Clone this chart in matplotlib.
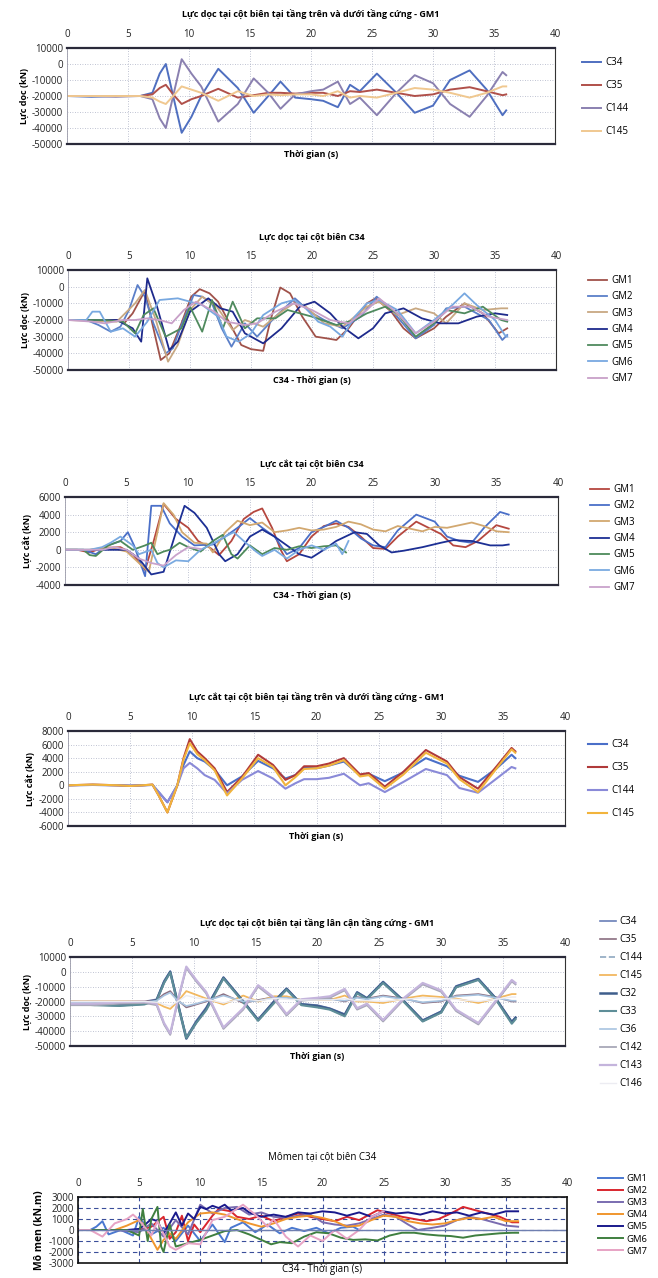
import matplotlib.pyplot as plt
from matplotlib.ticker import FuncFormatter

plt.rcParams['font.family'] = ['Open Sans', 'DejaVu Sans']
plt.rcParams['axes.unicode_minus'] = False
plt.rcParams['lines.solid_joinstyle'] = 'round'

# ---------------- panel 1 : axial force, columns above/below stiff storey, GM1
p1_t = [0, 2, 4, 6, 7, 7.6, 8.1, 8.7, 9.4, 10.2, 11, 12.4, 14, 15.3, 16.5, 17.5, 18.7, 20, 21,
        22.2, 23.2, 24, 25.4, 27, 28.5, 30, 31.4, 33, 34.4, 35.7, 36]
p1_c34 = [-20000, -20500, -20000, -20000, -18000, -6000, 0, -20000, -43000, -33000, -20000, -3000, -15000,
          -30500, -20000, -11000, -21000, -22000, -23000, -27000, -13000, -17000, -6000, -18000,
          -30500, -26000, -10000, -4000, -16000, -32000, -29000]
p1_c35 = [-20000, -20000, -20000, -20000, -19000, -15000, -13000, -19000, -25000, -22000, -20000, -15500, -21000,
          -19500, -18000, -18000, -18500, -18000, -18000, -20000, -17000, -17500, -16000, -18000,
          -20000, -19000, -16000, -14500, -17000, -19500, -19000]
p1_c144 = [-20000, -20000, -20500, -20000, -22000, -34000, -40000, -20000, 3000, -6000, -14000, -36000, -25000,
           -9000, -18000, -28000, -19000, -17000, -16000, -11000, -25000, -21000, -32000, -18000,
           -7000, -12000, -25000, -33000, -20000, -5000, -7000]
p1_c145 = [-20000, -20000, -20000, -20000, -21000, -23500, -25000, -20000, -14000, -16000, -18000, -23000, -17000,
           -20000, -19000, -19500, -19000, -19000, -20000, -17000, -21000, -20000, -21000, -18000,
           -15000, -16000, -18000, -21000, -18000, -14000, -14000]

# ---------------- panel 2 : axial force C34, GM1..GM7  (time, kN)
p2_gm1 = [(0, -20000), (4, -20000), (4.6, -22000), (5.3, -16000), (6.3, -2500), (7, -25000), (7.6, -44000),
          (8.3, -40000), (9.3, -22000), (10.1, -6000), (10.8, -1500), (11.6, -4000), (12.3, -9000),
          (13.1, -20000), (14.2, -35000), (15, -37500), (16, -38500), (16.6, -20000), (17.4, -500),
          (18.2, -4000), (19.2, -18000), (20.3, -30000), (21.2, -31000), (22, -32000), (23, -25000),
          (24.5, -10000), (25.2, -7000), (26.5, -15000), (27.5, -25000), (28.5, -31000), (30, -25000),
          (31, -18000), (32.5, -10000), (34, -16000), (35.3, -28000), (36, -25000)]
p2_gm2 = [(0, -20000), (1.5, -20000), (2.5, -23000), (3.5, -27000), (4.3, -24000), (5, -14000), (5.7, 1000),
          (6.3, -6000), (7, -22000), (8, -40000), (8.6, -37000), (9.2, -25000), (10.3, -5000), (11, -6000),
          (11.8, -10000), (12.6, -25000), (13.4, -36000), (14.5, -22000), (15.5, -30000), (17, -18000),
          (18.6, -7000), (19.8, -15000), (21, -20000), (22.5, -25000), (24, -18000), (25.3, -6000),
          (26.5, -14000), (28.5, -31000), (30, -23000), (31, -13000), (32.5, -12000), (34.5, -20000),
          (35.6, -32000), (36, -29000)]
p2_gm3 = [(0, -20000), (4, -21000), (5.5, -10000), (6.3, -2000), (7.2, -20000), (8.2, -45000), (9, -35000),
          (10, -14000), (11, -6000), (12.2, -12000), (13.5, -26000), (14.5, -20000), (16, -24000),
          (17.5, -15000), (18.5, -10000), (19.5, -12000), (21, -22000), (22.5, -24000), (24.5, -12000),
          (25.5, -9000), (27, -17000), (28.5, -13000), (30, -16000), (31, -22000), (32.5, -10000),
          (34, -14000), (35.5, -13000), (36, -13000)]
p2_gm4 = [(0, -20000), (4, -20000), (5.3, -25000), (6, -33000), (6.5, 5000), (7.3, -12000), (8.3, -38000),
          (9, -33000), (10, -15000), (11.5, -7000), (12.5, -13000), (13.5, -15000), (14.5, -28000),
          (16, -34000), (17.5, -25000), (19, -12000), (20.2, -9000), (21.5, -16000), (22.5, -24000),
          (23.8, -31000), (25, -25000), (26, -16000), (27.5, -13000), (29, -19000), (30.5, -22000),
          (32, -22000), (33.5, -18000), (35, -16000), (36, -17000)]
p2_gm5 = [(0, -20000), (3, -20000), (4.5, -21000), (5.5, -28000), (6.2, -17000), (7, -13000), (8, -30000),
          (9.3, -25000), (10, -12000), (11, -27000), (11.8, -8000), (12.7, -25000), (13.5, -9000),
          (14.5, -25000), (15.5, -19000), (17, -19000), (18, -14000), (20, -18000), (22, -23000),
          (23.5, -20000), (24.5, -16000), (26, -12000), (27, -16000), (28.5, -30000), (30, -22000),
          (31, -14000), (32.5, -16000), (34, -12000), (35.5, -20000), (36, -21000)]
p2_gm6 = [(0, -20000), (1.5, -20000), (2, -15000), (2.6, -15000), (3.5, -27000), (4.5, -25000), (5.5, -30000),
          (6.5, -21000), (7.5, -8000), (9, -7000), (10, -9000), (11, -11000), (12.3, -18000), (13, -30000),
          (14, -33000), (15, -28000), (16, -17000), (17.5, -10000), (18.5, -8000), (19.5, -13000),
          (20.5, -21000), (21.5, -24000), (22.5, -30000), (23.5, -18000), (24.5, -10000), (25.5, -8000),
          (27, -14000), (28.5, -28000), (30, -20000), (31.5, -11000), (32.5, -4000), (33.5, -11000),
          (35, -20000), (35.8, -29000), (36, -30000)]
p2_gm7 = [(0, -20000), (2, -21000), (3, -22000), (4.5, -20000), (5.5, -20000), (6.5, -19000), (7.5, -20000),
          (8.5, -22000), (9.5, -14000), (10.5, -9000), (12, -15000), (13, -21000), (14.5, -23000),
          (15.5, -22000), (17, -15000), (18.5, -10000), (20, -14000), (21.5, -20000), (23, -22000),
          (24.5, -14000), (25.5, -7000), (27, -16000), (28.5, -28000), (30, -21000), (31.5, -12000),
          (33, -12000), (34.5, -18000), (36, -20000)]

# ---------------- panel 3 : shear force C34, GM1..GM7
p3_gm1 = [(0, 0), (1, 0), (2, -300), (3, 200), (4.5, 300), (5.5, -500), (6.5, -2300), (7.2, 1000), (8, 5200),
          (9, 3500), (10, 2500), (10.8, 1000), (11.8, 200), (12.5, -600), (13.5, 1000), (14.5, 3500),
          (15.3, 4300), (16, 4700), (16.8, 2500), (17.5, 0), (18, -1300), (19, -500), (20, 1500), (21, 2700),
          (22, 3000), (23, 2600), (24, 1500), (25, 200), (26, 100), (27, 1500), (28.5, 3200), (29.5, 2500),
          (30.5, 1800), (31.5, 500), (32.5, 300), (33.5, 1000), (35, 2800), (36, 2400)]
p3_gm2 = [(0, 0), (1.5, 0), (2.5, -500), (3.5, 500), (4.5, 1000), (5.1, 2000), (5.6, 500), (6.5, -3000),
          (7, 5000), (7.8, 5000), (8.5, 3000), (9.5, 1500), (10.5, 500), (12, 600), (13, 1500), (14, 2500),
          (15, 3600), (16, 2500), (17, 1500), (18, -500), (19, 200), (20, 2000), (21, 2600), (22, 3300),
          (23, 2500), (24, 1300), (25, 500), (26, 300), (27, 2200), (28.5, 4000), (30, 3200), (31, 1500),
          (32, 1000), (33, 800), (34, 2500), (35.3, 4300), (36, 4000)]
p3_gm3 = [(0, 0), (2, 0), (3.5, 300), (5, -200), (6, -1500), (6.8, -2500), (7.5, 2000), (8, 5300), (8.8, 4000),
          (9.5, 2000), (10.5, 800), (11.5, 700), (12, -300), (13, 2000), (14, 3300), (15, 2800), (16, 3100),
          (17, 2000), (18, 2200), (19, 2500), (20, 2200), (21, 2300), (22, 2600), (23, 3200), (24, 2900),
          (25, 2300), (26, 2100), (27, 2700), (28, 2400), (29, 2100), (30, 2600), (31, 2500), (32, 2800),
          (33, 3100), (34, 2700), (35, 2100), (36, 2000)]
p3_gm4 = [(0, 0), (5, 0), (6, -1000), (7, -2800), (8, -2500), (9, 2000), (9.7, 5000), (10.5, 4200),
          (11.5, 2500), (12.5, -500), (13, -1300), (14, -500), (15, 1500), (16, 2300), (17, 1500), (18, 500),
          (19, -500), (20, -900), (21, 0), (22, 1000), (23.5, 2000), (24.5, 1800), (25.5, 500), (26.5, -300),
          (27.5, -100), (29, 300), (30.5, 800), (31.5, 1100), (33, 1000), (34.5, 500), (35.5, 500), (36, 600)]
p3_gm5 = [(0, 0), (1.5, 0), (2, -600), (2.5, -700), (3.5, 500), (4.5, 1000), (5.5, 0), (6.5, 500), (7, 800),
          (7.5, -500), (8, -200), (8.5, 0), (9.3, 800), (10, 300), (11, -200), (12, 1000), (12.8, 1700),
          (13.5, -500), (14, -1000), (15, 500), (16, -500), (17, 200), (18, 0), (19, 400), (20, 200),
          (21, 400), (22, 500), (22.8, -300)]
p3_gm6 = [(0, 0), (2, 0), (3, 300), (3.7, 800), (4.5, 1500), (5.5, 500), (6, -500), (7, 0), (7.5, -1500),
          (8, -2000), (9, -1200), (10, -1300), (11, 0), (12, 700), (13, 1500), (13.7, 2000), (14.5, 1000),
          (15.5, -200), (16, -700), (17, 0), (18, -1000), (19, 0), (20, 500), (21, 0), (22, 700),
          (22.5, -500), (23, 1000)]
p3_gm7 = [(0, 0), (3, 0), (4, 300), (5, 0), (6, -1000), (7, -1500), (8, -1800), (9, -600), (10, 300),
          (11, 100)]

# ---------------- panel 4 : shear force, columns above/below stiff storey, GM1
p4_t = [0, 2, 4, 5, 6, 6.8, 7.3, 8, 8.8, 9.3, 9.8, 10.4, 11, 11.8, 12.8, 14, 15.3, 16.5, 17.5, 18.3, 19,
        20, 21, 22.2, 23.5, 24.2, 25.5, 27, 28.8, 30.5, 31.5, 33, 34.5, 35.7, 36]
p4_c34 = [0, 50, 0, -50, 0, 50, -1000, -2500, 0, 3000, 5000, 4000, 3500, 2300, 0, 1300, 3600, 2500, 1000,
          1500, 2600, 2500, 2900, 3500, 1500, 1700, 600, 1900, 4000, 2800, 1400, 500, 2500, 4500, 4000]
p4_c35 = [0, 100, 0, -100, 0, 100, -1500, -4000, 0, 4000, 6800, 5000, 4000, 2500, -1000, 1200, 4500, 3000,
          800, 1500, 2800, 2800, 3200, 4000, 1600, 1800, -200, 2000, 5200, 3500, 1200, -500, 2800, 5500, 5000]
p4_c144 = [0, 50, 0, -50, 0, 50, -1000, -2500, 0, 2500, 3300, 2500, 1500, 800, -1200, 800, 2100, 1000,
           -500, 300, 900, 900, 1100, 1700, 0, 300, -1000, 500, 2400, 1500, -400, -1100, 1000, 2700, 2500]
p4_c145 = [0, 100, 0, -100, 0, 100, -1500, -4000, 0, 3800, 6200, 4600, 3700, 2200, -1500, 1000, 4000, 2700,
           0, 1200, 2400, 2500, 2900, 3700, 1300, 1500, -500, 1600, 4800, 3200, 900, -1000, 2500, 5300, 4800]

# ---------------- panel 5 : axial force, columns next to stiff storey, GM1
p5_t = [0, 2, 4, 6, 7, 7.6, 8.1, 8.7, 9.4, 10.2, 11, 12.4, 14, 15.2, 16.5, 17.5, 18.7, 20, 21, 22.2, 23.2,
        24, 25.3, 27, 28.5, 30, 31.2, 33, 34.4, 35.7, 36]
p5_c34 = [-20000, -20500, -20500, -20000, -18500, -6000, 500, -20000, -44000, -33000, -24000, -3500, -19500,
          -32000, -19500, -11000, -21500, -22500, -24500, -28500, -13500, -17500, -6500, -19500, -32500,
          -26500, -9500, -4500, -17500, -33500, -30500]
p5_c35 = [-20000, -20000, -20000, -20000, -19000, -15000, -13000, -19000, -24000, -22000, -20000, -15000,
          -21000, -19000, -17000, -17000, -19000, -18000, -18000, -20000, -17000, -18000, -16000, -18000,
          -21000, -20000, -16000, -15000, -17000, -20000, -20000]
p5_c144 = [-22000, -22000, -21000, -20500, -22000, -35000, -42000, -20000, 3000, -6000, -14000, -38000,
           -25000, -9500, -18000, -29000, -19000, -18000, -17000, -12000, -25000, -22000, -33000, -18000,
           -8000, -13000, -26000, -35000, -20000, -6000, -8000]
p5_c145 = [-20000, -20000, -20000, -20000, -21000, -23500, -25000, -20000, -13000, -15500, -18000, -22000,
           -16000, -20000, -16500, -16500, -19000, -19000, -19000, -16000, -20000, -20000, -21000, -18000,
           -16000, -17000, -18000, -21000, -18000, -15000, -15000]
p5_c32 = [-21000, -22000, -22500, -21500, -19000, -7000, 0, -21000, -45000, -34000, -25000, -4000, -20000,
          -32500, -20000, -11500, -22000, -23000, -25000, -29000, -14000, -18000, -7000, -20000, -33000,
          -27000, -10000, -5000, -18000, -34000, -31000]
p5_c33 = [-21500, -22500, -23000, -22000, -19500, -7500, -500, -21500, -44500, -34500, -26000, -4500, -20500,
          -33000, -21000, -12000, -22500, -24000, -25500, -30000, -14500, -18500, -7500, -20500, -33500,
          -27500, -10500, -5500, -18500, -35000, -32000]
p5_c36 = [-20500, -21000, -21000, -20500, -19500, -16000, -14000, -19500, -23000, -21500, -19500, -16000,
          -20000, -19500, -17500, -17500, -19000, -18500, -18500, -19500, -17500, -18500, -16500, -18500,
          -20500, -19500, -16500, -15500, -17500, -19500, -19500]
p5_c142 = [-22500, -22500, -21500, -21000, -22500, -35500, -42500, -20500, 2500, -6500, -14500, -38500,
           -25500, -10000, -18500, -29500, -19500, -18500, -17500, -12500, -25500, -22500, -33500, -18500,
           -8500, -13500, -26500, -35500, -20500, -6500, -8500]
p5_c143 = [-21500, -21500, -20500, -20000, -21500, -34500, -41500, -19500, 3500, -5500, -13500, -37500,
           -24500, -9000, -17500, -28500, -18500, -17500, -16500, -11500, -24500, -21500, -32500, -17500,
           -7500, -12500, -25500, -34500, -19500, -5500, -7500]
p5_c146 = [-20000, -20000, -20000, -20000, -20500, -22000, -23000, -20000, -16000, -17500, -18500, -21000,
           -18000, -19500, -18000, -18500, -19000, -19000, -19000, -18000, -19500, -19500, -20000, -18500,
           -17500, -18000, -18500, -20000, -18500, -17000, -17000]

# ---------------- panel 6 : bending moment C34, GM1..GM7 (kN.m)
p6_gm1 = [(0, 0), (1, 0), (1.5, 300), (2, 800), (2.5, -400), (3.5, 0), (4.5, -500), (5, 1200), (6, -400),
          (7, 200), (8, -1000), (9, 400), (10, -1000), (11, 500), (12, -1100), (12.5, 200), (13.5, 700),
          (14.5, -200), (15.5, 500), (16.5, -300), (17.5, 200), (18.5, -100), (19.5, 200), (20.5, -300),
          (21.5, 200), (22.5, 300), (23, 0)]
p6_gm2 = [(0, 0), (5, 0), (6, 300), (7, 1200), (7.5, -800), (8, -200), (8.5, 1300), (9, -1000), (9.5, 500),
          (10, -200), (11, 1300), (11.5, 1900), (12.5, 1700), (13, 1200), (14, 1000), (15, 1300), (16, 800),
          (17, 1200), (18, 1500), (19, 1200), (20, 1000), (21, 800), (22, 1200), (23, 900), (24, 1500),
          (24.5, 1800), (25.5, 1500), (26.5, 1200), (27.5, 1000), (28.5, 800), (29.5, 1000), (30.5, 1500),
          (31.5, 2100), (32.5, 1800), (33.5, 1500), (34.5, 1200), (35.5, 700), (36, 700)]
p6_gm3 = [(0, 0), (3, 0), (5, -200), (6, 600), (7, -600), (8, 900), (9, -400), (10, 2300), (11, 1500),
          (12, 2000), (13, 2100), (14, 1400), (15, 1600), (16, 1200), (17, 1100), (18, 1300), (19, 1400),
          (20, 700), (21, 500), (22, 400), (23, 600), (24, 1000), (25, 1400), (26, 1200), (27, 500),
          (27.8, 0), (29, 200), (30, 400), (31, 900), (32, 1200), (33, 1000), (34, 700), (35, 400), (36, 300)]
p6_gm4 = [(0, 0), (3, 0), (4, 400), (5, 900), (5.5, 300), (6, -800), (6.5, -1800), (7, -900), (7.5, -300),
          (8, -800), (9, 700), (10, 1500), (11, 1600), (12, 1400), (13, 1000), (14, 600), (15, 300),
          (16, 600), (17, 1000), (18, 1200), (19, 1300), (20, 1100), (21, 800), (22, 300), (23, 400),
          (24, 900), (25, 1300), (26, 1200), (27, 800), (28, 600), (29, 500), (30, 600), (31, 900),
          (32, 1100), (33, 1000), (34, 1200), (35, 800), (36, 800)]
p6_gm5 = [(0, 0), (4, 0), (5, 100), (5.5, 500), (6, 1000), (6.5, 800), (7, -300), (7.5, 600), (8, 1600),
          (8.5, 400), (9, 1500), (9.5, 1000), (10, 2100), (10.5, 1900), (11, 2200), (11.5, 2000), (12, 2300),
          (12.5, 1800), (13.5, 2000), (14, 1600), (15, 1200), (16, 1400), (17, 1200), (18, 1600), (19, 1500),
          (20, 1700), (21, 1600), (22, 1300), (23, 1600), (24, 1200), (25, 1700), (26, 1500), (27, 1600),
          (28, 1400), (29, 1700), (30, 1500), (31, 1600), (32, 1300), (33, 1600), (34, 1400), (35, 1700),
          (36, 1700)]
p6_gm6 = [(0, 0), (4, 0), (5, -500), (5.3, 1900), (5.7, -1000), (6, 1000), (6.5, 2100), (6.8, -1500),
          (7, -2000), (7.5, 500), (8, -1500), (9, -1200), (10, -900), (11, -500), (12, -100), (13, 0),
          (14, -400), (15, -900), (15.8, -1300), (16.5, -1100), (17.5, -1200), (18.5, -600), (19.5, -200),
          (20.5, -300), (21.5, -700), (22.5, -900), (23.5, -850), (24.5, -950), (25.5, -500), (26.5, -250),
          (27.5, -250), (28.5, -400), (29.5, -500), (30.5, -550), (31.5, -700), (32.5, -500), (33.5, -400),
          (34.5, -300), (35.5, -250), (36, -250)]
p6_gm7 = [(0, 0), (1, 0), (1.5, -300), (2, -600), (3, 600), (4, 1000), (4.5, 1400), (5, 900), (6, -500),
          (6.5, 800), (7.5, -1500), (8, -1800), (9, -1200), (10, -1300), (11, 900), (12, 1200), (13.5, 2300),
          (14.5, 1400), (15.5, 300), (16, 1000), (17, -600), (18, -1500), (19, -500), (20, -1000), (21, 0),
          (22, -800), (23, 0), (24, 1200), (25, 1700)]

W, H = 658, 1278
fig = plt.figure(figsize=(W / 100, H / 100), dpi=100)
fmt = FuncFormatter(lambda v, pos: '%d' % v)


def make_axes(left, right, top, bottom):
    return fig.add_axes([left / W, 1 - bottom / H, (right - left) / W, (bottom - top) / H])


def dress(ax, title, ylabel, xlabel, ylim, ystep, dashed=False, title_pad=22):
    ax.set_xlim(0, 40)
    ax.set_ylim(*ylim)
    ax.set_xticks(range(0, 41, 5))
    ax.set_yticks(range(ylim[0], ylim[1] + 1, ystep))
    ax.yaxis.set_major_formatter(fmt)
    ax.xaxis.tick_top()
    ax.xaxis.set_label_position('bottom')
    ax.tick_params(length=0, labelsize=7, colors='#222222', pad=3)
    ax.tick_params(axis='x', pad=6)
    if dashed:
        ax.grid(True, color='#3a4e9a', lw=0.8, ls=(0, (4, 3)))
        for s in ax.spines.values():
            s.set_color('#111111')
            s.set_linewidth(1.2)
        ax.axhline(0, color='#6f7fb0', lw=1.0)
    else:
        ax.grid(True, color='#aab0c4', lw=0.6, ls=(0, (1, 2)))
        ax.spines['top'].set_linewidth(1.6)
        ax.spines['bottom'].set_linewidth(1.6)
        ax.spines['top'].set_color('#2a2a3a')
        ax.spines['bottom'].set_color('#2a2a3a')
        ax.spines['right'].set_color('#333333')
        ax.spines['right'].set_linewidth(0.8)
        ax.spines['left'].set_color('#9a9aa8')
        ax.spines['left'].set_linewidth(0.6)
    ax.set_axisbelow(True)
    ax.set_title(title, fontsize=6.5, fontweight='bold', pad=title_pad)
    ax.set_ylabel(ylabel, fontsize=6.5, fontweight='bold', labelpad=2)
    ax.set_xlabel(xlabel, fontsize=6.5, fontweight='bold', labelpad=4)


def legend(ax, x, y, spacing, hl=2.0):
    ax.legend(loc='upper left', bbox_to_anchor=(x / W, 1 - y / H), bbox_transform=fig.transFigure,
              frameon=False, fontsize=7, labelspacing=spacing, handlelength=hl, handletextpad=0.4,
              borderaxespad=0, borderpad=0)


def pairs(ax, data, color, label, lw=1.3):
    t, v = zip(*data)
    ax.plot(t, v, color=color, lw=lw, label=label)


# panel 1
ax1 = make_axes(67, 555, 48, 144)
ax1.plot(p1_t, p1_c34, color='#4f6fc0', lw=1.4, label='C34')
ax1.plot(p1_t, p1_c35, color='#b0504a', lw=1.4, label='C35')
ax1.plot(p1_t, p1_c144, color='#8a80b0', lw=1.4, label='C144')
ax1.plot(p1_t, p1_c145, color='#f0c890', lw=1.4, label='C145')
dress(ax1, 'Lực dọc tại cột biên tại tầng trên và dưới tầng cứng - GM1', 'Lực dọc (kN)', 'Thời gian (s)',
      (-50000, 10000), 10000)
legend(ax1, 582, 57, 1.25)

# panel 2
ax2 = make_axes(68, 556, 270, 370)
p2_colors = ['#a0524a', '#5b7fc8', '#c8a882', '#1e2a8c', '#4f8a5e', '#78a8e0', '#c8a0c8']
for i, d in enumerate([p2_gm1, p2_gm2, p2_gm3, p2_gm4, p2_gm5, p2_gm6, p2_gm7]):
    pairs(ax2, d, p2_colors[i], 'GM%d' % (i + 1))
dress(ax2, 'Lực dọc tại cột biên C34', 'Lực dọc (kN)', 'C34 - Thời gian (s)', (-50000, 10000), 10000)
legend(ax2, 588, 275, 0.55)

# panel 3
ax3 = make_axes(65, 558, 497, 585)
p3_colors = ['#b5473f', '#4a6fc8', '#d2a870', '#1c2f94', '#4d8a5a', '#7aaae0', '#c9a3cc']
for i, d in enumerate([p3_gm1, p3_gm2, p3_gm3, p3_gm4, p3_gm5, p3_gm6, p3_gm7]):
    pairs(ax3, d, p3_colors[i], 'GM%d' % (i + 1))
dress(ax3, 'Lực cắt tại cột biên C34', 'Lực cắt (kN)', 'C34 - Thời gian (s)', (-4000, 6000), 2000)
legend(ax3, 590, 484, 0.55)

# panel 4
ax4 = make_axes(68, 565, 731, 826)
ax4.plot(p4_t, p4_c34, color='#4a6fc8', lw=1.5, label='C34')
ax4.plot(p4_t, p4_c35, color='#b03a3a', lw=1.5, label='C35')
ax4.plot(p4_t, p4_c144, color='#8a8ad8', lw=1.5, label='C144')
ax4.plot(p4_t, p4_c145, color='#f2b43c', lw=1.5, label='C145')
dress(ax4, 'Lực cắt tại cột biên tại tầng trên và dưới tầng cứng - GM1', 'Lực cắt (kN)', 'Thời gian (s)',
      (-6000, 8000), 2000)
legend(ax4, 588, 739, 1.25)

# panel 5
ax5 = make_axes(70, 565, 957, 1046)
ax5.plot(p5_t, p5_c34, color='#6a7fb8', lw=1.2, label='C34')
ax5.plot(p5_t, p5_c35, color='#8a6e80', lw=1.2, label='C35')
ax5.plot(p5_t, p5_c144, color='#8fa8c0', lw=1.2, ls='--', label='C144')
ax5.plot(p5_t, p5_c145, color='#f2b860', lw=1.3, label='C145')
ax5.plot(p5_t, p5_c32, color='#3f5e8c', lw=1.8, label='C32')
ax5.plot(p5_t, p5_c33, color='#5e8e98', lw=1.5, label='C33')
ax5.plot(p5_t, p5_c36, color='#a8c4e0', lw=1.2, label='C36')
ax5.plot(p5_t, p5_c142, color='#a8a8b8', lw=1.3, label='C142')
ax5.plot(p5_t, p5_c143, color='#c4b4dc', lw=1.6, label='C143')
ax5.plot(p5_t, p5_c146, color='#ececf2', lw=1.0, label='C146')
dress(ax5, 'Lực dọc tại cột biên tại tầng lân cận tầng cứng - GM1', 'Lực dọc (kN)', 'Thời gian (s)',
      (-50000, 10000), 10000)
legend(ax5, 600, 916, 0.72, hl=1.6)

# panel 6
ax6 = make_axes(78, 567, 1197, 1263)
p6_colors = ['#4a78d0', '#d9262e', '#7a6cb0', '#f0962e', '#1a1a8c', '#3f7f3f', '#e7a3c4']
for i, d in enumerate([p6_gm1, p6_gm2, p6_gm3, p6_gm4, p6_gm5, p6_gm6, p6_gm7]):
    pairs(ax6, d, p6_colors[i], 'GM%d' % (i + 1), lw=1.4)
dress(ax6, 'Mômen tại cột biên C34', 'Mô men (kN.m)', 'C34 - Thời gian (s)', (-3000, 3000), 1000,
      dashed=True, title_pad=27)
ax6.title.set_fontweight('normal')
ax6.title.set_fontsize(7)
ax6.yaxis.label.set_fontsize(7.5)
ax6.xaxis.label.set_fontweight('normal')
ax6.xaxis.label.set_fontsize(7)
ax6.xaxis.labelpad = 1
ax6.legend(loc='upper left', bbox_to_anchor=(598 / W, 1 - 1174 / H), bbox_transform=fig.transFigure,
           frameon=False, fontsize=6.8, labelspacing=0.33, handlelength=2.6, handletextpad=0.4,
           borderaxespad=0, borderpad=0)

fig.savefig('out.png', dpi=100, facecolor='white')
